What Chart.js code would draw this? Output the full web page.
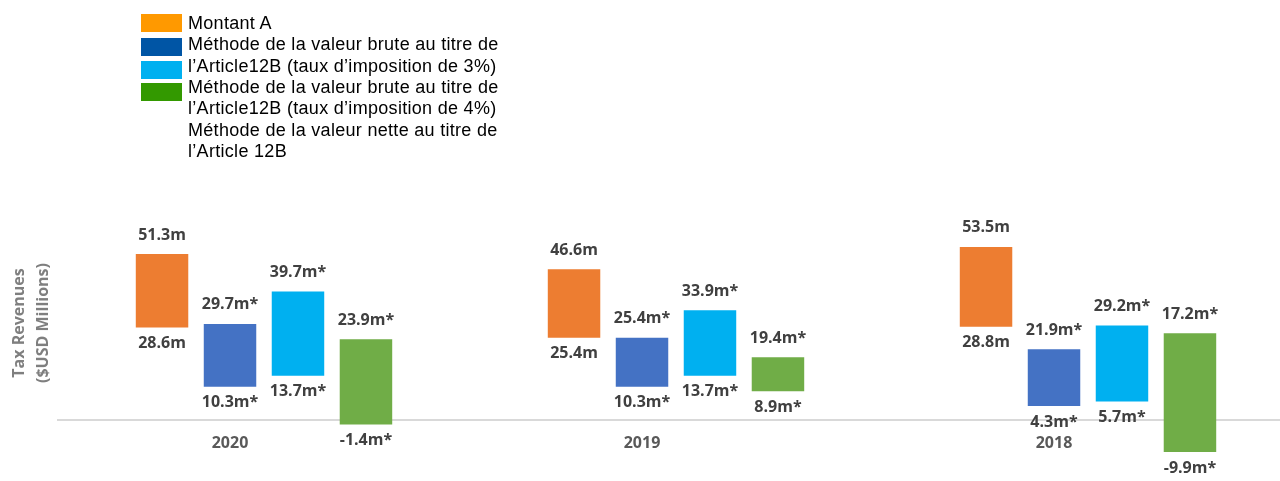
<!DOCTYPE html>
<html>
<head>
<meta charset="utf-8">
<script src="https://cdn.jsdelivr.net/npm/chart.js@4/dist/chart.umd.min.js"></script>
<style>
  html, body { margin:0; padding:0; background:#fff; overflow:hidden; width:1280px; height:481px; }
  #wrap { position:absolute; left:0; top:0; width:1300px; height:481px; }
  #legend { position:absolute; left:0; top:0; width:600px; height:180px; font-family:"Liberation Sans", Arial, sans-serif; font-size:18px; color:#000; }
  .sw { position:absolute; left:141px; width:41px; height:18px; }
  #legtext { position:absolute; left:188px; top:13px; line-height:21.33px; white-space:nowrap; letter-spacing:0.3px; }
  #ytitle { position:absolute; left:-70px; top:299px; width:200px; height:48px; line-height:24px; text-align:center;
            font-family:"Open Sans", sans-serif; font-weight:700; font-size:16px; color:#7f7f7f; transform:rotate(-90deg); transform-origin:50% 50%; white-space:nowrap; }
</style>
</head>
<body>
<div id="wrap"><canvas id="c"></canvas></div>
<div id="legend"></div>
<div id="ytitle">Tax Revenues<br>($USD Millions)</div>
<script>
// ---- data ----
const categories = ['2020', '2019', '2018'];
const seriesNames = [
  'Montant A',
  'Méthode de la valeur brute au titre de l’Article12B (taux d’imposition de 3%)',
  'Méthode de la valeur brute au titre de l’Article12B (taux d’imposition de 4%)',
  'Méthode de la valeur nette au titre de l’Article 12B'
];
const montantLow  = [28.6, 25.4, 28.8];
const montantHigh = [51.3, 46.6, 53.5];
const brut3Low    = [10.3, 10.3, 4.3];
const brut3High   = [29.7, 25.4, 21.9];
const brut4Low    = [13.7, 13.7, 5.7];
const brut4High   = [39.7, 33.9, 29.2];
const netLow      = [-1.4, 8.9, -9.9];
const netHigh     = [25.0, 19.4, 26.8];

const montantTopLabels = ['51.3m', '46.6m', '53.5m'];
const montantBotLabels = ['28.6m', '25.4m', '28.8m'];
const brut3TopLabels   = ['29.7m*', '25.4m*', '21.9m*'];
const brut3BotLabels   = ['10.3m*', '10.3m*', '4.3m*'];
const brut4TopLabels   = ['39.7m*', '33.9m*', '29.2m*'];
const brut4BotLabels   = ['13.7m*', '13.7m*', '5.7m*'];
const netTopLabels     = ['23.9m*', '19.4m*', '17.2m*'];
const netBotLabels     = ['-1.4m*', '8.9m*', '-9.9m*'];

const legendLines = [
  'Montant A',
  'Méthode de la valeur brute au titre de',
  'l’Article12B (taux d’imposition de 3%)',
  'Méthode de la valeur brute au titre de',
  'l’Article12B (taux d’imposition de 4%)',
  'Méthode de la valeur nette au titre de',
  'l’Article 12B'
];

// ---- styles ----
const barColors = ['#ED7D31', '#4472C4', '#00B0F0', '#70AD47'];
const swatchColors = ['#FF9900', '#0055A5', '#00B0F0', '#339900'];
const swatchTops = [14, 38, 61, 83];

// legend (HTML)
const leg = document.getElementById('legend');
swatchColors.forEach((c, i) => {
  const d = document.createElement('div');
  d.className = 'sw';
  d.style.top = swatchTops[i] + 'px';
  d.style.background = c;
  leg.appendChild(d);
});
const lt = document.createElement('div');
lt.id = 'legtext';
lt.innerHTML = legendLines.map(s => s.replace(/&/g,'&amp;')).join('<br>');
leg.appendChild(lt);

const pair = (lo, hi) => lo.map((v, i) => [v, hi[i]]);
const rangeData = [pair(montantLow, montantHigh), pair(brut3Low, brut3High), pair(brut4Low, brut4High), pair(netLow, netHigh)];
const topLabels = [montantTopLabels, brut3TopLabels, brut4TopLabels, netTopLabels];
const botLabels = [montantBotLabels, brut3BotLabels, brut4BotLabels, netBotLabels];

const labelPlugin = {
  id: 'rangeLabels',
  afterDraw(chart) {
    const ctx = chart.ctx;
    ctx.save();
    ctx.font = '700 16px "Open Sans", sans-serif';
    ctx.fillStyle = '#404040';
    ctx.textAlign = 'center';
    ctx.textBaseline = 'middle';
    chart.data.datasets.forEach((ds, di) => {
      const meta = chart.getDatasetMeta(di);
      meta.data.forEach((el, i) => {
        const top = Math.min(el.y, el.base);
        const bot = Math.max(el.y, el.base);
        ctx.fillText(topLabels[di][i], el.x, top - 19);
        ctx.fillText(botLabels[di][i], el.x, bot + 16);
      });
    });
    ctx.restore();
  }
};

new Chart(document.getElementById('c'), {
  type: 'bar',
  data: {
    labels: categories,
    datasets: rangeData.map((d, i) => ({
      label: seriesNames[i],
      data: d,
      backgroundColor: barColors[i],
      borderWidth: 0,
      categoryPercentage: 0.66,
      barPercentage: 0.772
    }))
  },
  options: {
    responsive: true,
    maintainAspectRatio: false,
    animation: false,
    layout: { padding: { left: 58, right: 6, top: 0, bottom: 0 } },
    plugins: { legend: { display: false }, tooltip: { enabled: false } },
    scales: {
      x: {
        type: 'category',
        position: { y: 0 },
        z: 1,
        grid: { display: false, drawTicks: false },
        border: { display: true, color: '#d9d9d9', width: 2 },
        ticks: { labelOffset: -34, padding: 14, color: '#595959', font: { family: '"Open Sans", sans-serif', weight: '700', size: 16 } }
      },
      y: {
        display: false,
        min: -18.86,
        max: 129.84
      }
    }
  },
  plugins: [labelPlugin]
});
</script>
</body>
</html>
